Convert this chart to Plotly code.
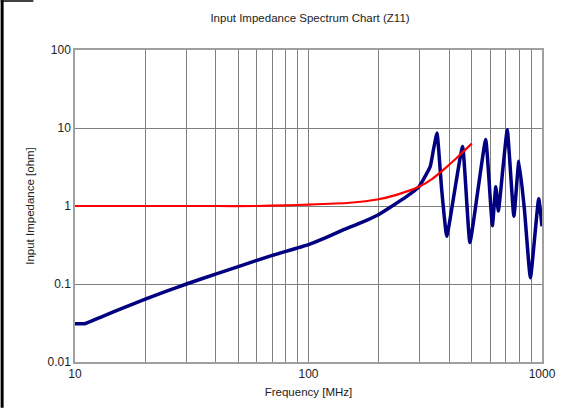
import plotly.graph_objects as go

# Blue curve: Z11 input impedance
blue_freq = [10, 11, 13, 16, 20, 25, 30, 40, 50, 70, 100, 120, 140, 170, 200, 228, 260, 297, 332, 343, 355,
             372, 391, 420, 457, 491, 530, 574, 613, 634, 650, 680, 710, 758, 796, 841, 892, 968, 1000]
blue_z = [0.031, 0.031, 0.038, 0.049, 0.064, 0.082, 0.1, 0.134, 0.167, 0.233, 0.32, 0.40, 0.49, 0.62, 0.78, 1.0, 1.29, 1.76, 3.2, 5.3, 8.6,
          1.6, 0.41, 1.4, 5.8, 0.34, 1.5, 7.1, 0.56, 1.76, 0.86, 3.0, 9.5, 0.74, 3.74, 0.9, 0.12, 1.24, 0.55]

# Red curve: reference impedance
red_freq = [10, 20, 40, 60, 80, 100, 150, 197, 240, 297, 340, 379, 431, 500]
red_z = [1.0, 1.0, 1.0, 1.0, 1.02, 1.04, 1.1, 1.21, 1.40, 1.76, 2.25, 2.93, 4.13, 6.3]

x_ticks = [10, 100, 1000]
y_ticks = [0.01, 0.1, 1, 10, 100]
y_tick_text = ["0.01", "0.1", "1", "10", "100"]
x_minor = [20, 30, 40, 50, 60, 70, 80, 90, 200, 300, 400, 500, 600, 700, 800, 900]

fig = go.Figure()
fig.add_trace(go.Scatter(x=blue_freq, y=blue_z, mode="lines",
                         line=dict(color="#000080", width=3.5, shape="spline", smoothing=0.4)))
fig.add_trace(go.Scatter(x=red_freq, y=red_z, mode="lines",
                         line=dict(color="#FF0000", width=2.2, shape="spline", smoothing=0.6)))

font = "Liberation Sans, Arial, sans-serif"
fig.update_layout(
    width=568, height=409,
    margin=dict(l=75, r=22, t=50, b=46),
    paper_bgcolor="white", plot_bgcolor="white",
    showlegend=False,
    font=dict(family=font, size=12, color="#222222"),
    title=dict(text="Input Impedance Spectrum Chart (Z11)", x=(310 / 568), xanchor="center",
               y=1 - 18 / 409, yanchor="middle", font=dict(size=11.5, color="#222222")),
    xaxis=dict(type="log", range=[1, 3], tickvals=x_ticks, ticktext=["10", "100", "1000"],
               showgrid=True, gridcolor="#7f7f7f", gridwidth=1,
               minor=dict(tickvals=x_minor, showgrid=True, gridcolor="#7f7f7f", gridwidth=1),
               showline=True, linecolor="#a0a0a0", linewidth=1.5, mirror=True,
               ticks="", zeroline=False,
               title=dict(text="Frequency [MHz]", font=dict(size=11.5), standoff=8),
               tickfont=dict(size=12)),
    yaxis=dict(type="log", range=[-2, 2], tickvals=y_ticks, ticktext=y_tick_text,
               showgrid=True, gridcolor="#7f7f7f", gridwidth=1,
               showline=True, linecolor="#a0a0a0", linewidth=1.5, mirror=True,
               ticks="", zeroline=False,
               title=dict(text="Input Impedance [ohm]", font=dict(size=11.5), standoff=10),
               tickfont=dict(size=12)),
)

# Black frame fragments at the left and top of the image
fig.add_shape(type="rect", xref="paper", yref="paper",
              x0=-75 / 471, x1=-72 / 471, y0=-46 / 313, y1=363 / 313,
              fillcolor="black", line=dict(width=0), layer="above")
fig.add_shape(type="rect", xref="paper", yref="paper",
              x0=-75 / 471, x1=-42 / 471, y0=361.5 / 313, y1=363 / 313,
              fillcolor="black", line=dict(width=0), layer="above")

fig.write_html("out.html", config={"displayModeBar": False},
               post_script="document.body.style.margin='0';document.body.style.overflow='hidden';")
